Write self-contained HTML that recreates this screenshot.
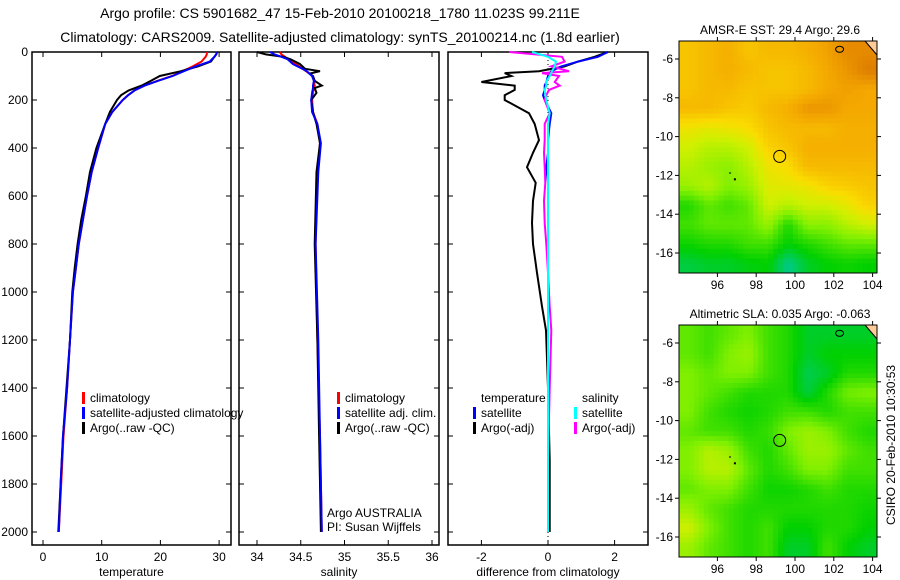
<!DOCTYPE html>
<html><head><meta charset="utf-8"><style>
html,body{margin:0;padding:0;background:#fff}
svg{display:block;font-family:"Liberation Sans",sans-serif}
</style></head><body>
<svg id="c" width="900" height="580" viewBox="0 0 900 580" xmlns="http://www.w3.org/2000/svg">
<text x="340" y="18" font-size="14" text-anchor="middle">Argo profile: CS 5901682_47 15-Feb-2010 20100218_1780 11.023S 99.211E</text>
<text x="340" y="42" font-size="14" text-anchor="middle">Climatology: CARS2009. Satellite-adjusted climatology: synTS_20100214.nc (1.8d earlier)</text>
<g id="g"></g>
</svg>
<script>
// ---- data ----
const depthsT = [0,10,20,40,60,80,100,120,140,160,180,200,250,300,400,500,600,700,800,900,1000,1200,1400,1600,1800,2000];
const tempClim = [27.9,27.9,27.7,27,25.5,23.8,22,19.5,17.3,15.6,14.5,13.6,11.8,10.6,9.4,8.3,7.5,6.8,6.1,5.6,5.1,4.6,4.1,3.5,3.1,2.7];
const tempSat  = [29.6,29.5,29.2,28.4,26,24,22.1,19.6,17.3,15.6,14.5,13.6,11.8,10.6,9.4,8.3,7.5,6.8,6.1,5.6,5.1,4.6,4.1,3.4,3.0,2.7];
const tempArgo = [29.7,29.5,29.2,28.6,26.4,23.5,19.9,18.4,16.8,14.6,13.3,12.6,11.4,10.6,9.1,8.0,7.3,6.5,5.9,5.4,5.0,4.6,4.0,3.4,3.0,2.6];
const depthsS = [0,10,20,30,50,70,80,90,100,120,140,150,170,200,250,300,380,500,800,1200,1600,2000];
const salClim = [34.26,34.28,34.32,34.36,34.45,34.52,34.56,34.6,34.63,34.65,34.66,34.65,34.64,34.63,34.64,34.69,34.72,34.69,34.67,34.69,34.72,34.74];
const salSat  = [34.15,34.2,34.28,34.35,34.41,34.52,34.57,34.6,34.63,34.65,34.64,34.64,34.63,34.62,34.63,34.69,34.73,34.7,34.67,34.7,34.72,34.74];
const salArgo = [34.0,34.1,34.3,34.38,34.49,34.55,34.72,34.6,34.64,34.66,34.74,34.66,34.68,34.62,34.64,34.68,34.72,34.68,34.66,34.69,34.71,34.73];
const depthsD = [0,20,40,60,80,88,100,125,140,158,180,200,255,300,367,420,480,545,620,712,800,920,1060,1160,1400,1700,2000];
const dTsat  = [1.8,1.5,0.9,0.4,0.1,0.05,0.0,-0.05,-0.1,-0.1,-0.15,-0.1,0.1,0.05,0.0,0.0,-0.05,0.0,0.0,0.0,0.0,0.0,0.0,0.0,0.0,0.0,0.0];
const dTargo = [1.8,1.4,0.9,0.5,-0.27,-1.3,-1.1,-2.0,-1.0,-1.0,-1.3,-1.3,-0.57,-0.4,-0.27,-0.45,-0.63,-0.37,-0.45,-0.48,-0.45,-0.33,-0.18,-0.06,0.0,0.05,0.05];
const dSsat  = [-0.48,0.0,0.24,0.2,0.12,0.1,0.05,-0.06,-0.05,-0.1,-0.08,-0.05,0.05,0.0,0.0,0.0,0.0,0.0,0.0,0.0,0.0,0.0,0.0,0.0,0.0,0.0,0.0];
const dSargo = [-1.17,0.42,0.5,0.1,0.63,-0.18,0.33,0.2,0.35,0.03,-0.05,-0.1,0.05,-0.1,-0.1,-0.12,-0.1,-0.08,-0.12,-0.1,-0.05,0.0,0.05,0.1,0.05,0.0,0.0];
const depthTicks = [0,200,400,600,800,1000,1200,1400,1600,1800,2000];
const tTicks = [0,10,20,30];
const sTicks = [34,34.5,35,35.5,36];
const dTicks = [-2,0,2];
const latTicks = [-6,-8,-10,-12,-14,-16];
const lonTicks = [96,98,100,102,104];
const sstGrid = [
[0.72,0.75,0.78,0.72,0.75,0.75,0.78,0.82,0.88,0.88],
[0.72,0.75,0.78,0.75,0.72,0.72,0.75,0.8,0.85,0.92],
[0.72,0.75,0.75,0.72,0.72,0.72,0.75,0.8,0.82,0.8],
[0.75,0.75,0.72,0.7,0.75,0.78,0.85,0.85,0.8,0.8],
[0.62,0.6,0.62,0.65,0.72,0.75,0.75,0.75,0.78,0.78],
[0.55,0.5,0.5,0.55,0.68,0.72,0.78,0.78,0.78,0.78],
[0.5,0.45,0.42,0.5,0.62,0.65,0.75,0.75,0.75,0.75],
[0.45,0.5,0.4,0.45,0.58,0.6,0.62,0.68,0.7,0.72],
[0.25,0.35,0.3,0.35,0.55,0.5,0.55,0.55,0.6,0.68],
[0.3,0.35,0.35,0.35,0.45,0.25,0.42,0.42,0.5,0.55],
[0.22,0.25,0.25,0.3,0.3,0.2,0.25,0.3,0.35,0.35],
[0.12,0.15,0.15,0.18,0.2,0.03,0.15,0.2,0.22,0.2]];
const slaGrid = [
[0.35,0.3,0.35,0.4,0.3,0.25,0.15,0.15,0.15,0.15],
[0.35,0.3,0.4,0.45,0.3,0.25,0.15,0.2,0.2,0.2],
[0.4,0.35,0.4,0.4,0.3,0.25,0.1,0.15,0.25,0.25],
[0.4,0.35,0.3,0.25,0.25,0.25,0.12,0.25,0.38,0.4],
[0.4,0.3,0.25,0.22,0.25,0.3,0.3,0.25,0.3,0.3],
[0.35,0.3,0.3,0.25,0.28,0.4,0.45,0.4,0.3,0.25],
[0.4,0.5,0.45,0.3,0.25,0.35,0.45,0.45,0.35,0.3],
[0.4,0.5,0.5,0.35,0.25,0.3,0.4,0.4,0.3,0.3],
[0.35,0.4,0.4,0.3,0.22,0.22,0.25,0.3,0.25,0.25],
[0.45,0.35,0.3,0.25,0.25,0.25,0.25,0.25,0.25,0.22],
[0.55,0.4,0.3,0.25,0.3,0.2,0.2,0.25,0.25,0.2],
[0.45,0.35,0.3,0.25,0.3,0.15,0.15,0.3,0.2,0.15]];

const NS="http://www.w3.org/2000/svg";
const G=document.getElementById('g');
function el(t,a,p){const e=document.createElementNS(NS,t);for(const k in a)e.setAttribute(k,a[k]);(p||G).appendChild(e);return e;}
const top0=52, bot=545;
const yD = d => top0 + d*0.24;

function panel(name,x0,x1,xs,ticks,xlabel,fmt){
  const g=el('g',{});
  
  
  const r=el('rect',{x:x0,y:top0,width:x1-x0,height:bot-top0,fill:'none',stroke:'#000','stroke-width':1.5},g);
  
  
  ticks.forEach(v=>{const x=xs(v);
    el('line',{x1:x,x2:x,y1:bot,y2:bot-5,stroke:'#000'},g);
    el('line',{x1:x,x2:x,y1:top0,y2:top0+5,stroke:'#000'},g);
    const t=el('text',{x:x,y:561,'font-size':12,'text-anchor':'middle'},g);t.textContent=fmt(v);
    
    
  });
  depthTicks.forEach(d=>{const y=yD(d);
    el('line',{x1:x0,x2:x0+5,y1:y,y2:y,stroke:'#000'},g);
    el('line',{x1:x1,x2:x1-5,y1:y,y2:y,stroke:'#000'},g);});
  const l=el('text',{x:(x0+x1)/2,y:576,'font-size':12,'text-anchor':'middle'},g);l.textContent=xlabel;
  
  
  return g;
}
function line(g,name,depths,vals,xs,col,w){
  const pts=depths.map((d,i)=>xs(vals[i]).toFixed(1)+','+yD(d).toFixed(1)).join(' ');
  const p=el('polyline',{points:pts,fill:'none',stroke:col,'stroke-width':w||2},g);
  
  
}
function legend(g,x,y,items){
  items.forEach((it,i)=>{
    if(it[1]) el('rect',{x:x,y:y+i*15-10,width:3,height:12,fill:it[1]},g);
    const t=el('text',{x:x+8,y:y+i*15,'font-size':12},g);t.textContent=it[0];
    
    
  });
}
depthTicks.forEach(d=>{const t=el('text',{x:28,y:yD(d)+4,'font-size':12,'text-anchor':'end'});t.textContent=d;
  
  });

const xT=v=>43+v*5.87;
const p1=panel('temperature-panel',32,231,xT,tTicks,'temperature',v=>v);
line(p1,'temp-climatology',depthsT,tempClim,xT,'#f00');
line(p1,'temp-argo',depthsT,tempArgo,xT,'#000');
line(p1,'temp-satellite-adj',depthsT,tempSat,xT,'#00f');
legend(p1,82,402,[['climatology','#f00'],['satellite-adjusted climatology','#00f'],['Argo(..raw -QC)','#000']]);
const xS=v=>257+(v-34)*87.5;
const p2=panel('salinity-panel',239,439,xS,sTicks,'salinity',v=>v);
line(p2,'sal-climatology',depthsS,salClim,xS,'#f00');
line(p2,'sal-argo',depthsS,salArgo,xS,'#000');
line(p2,'sal-satellite-adj',depthsS,salSat,xS,'#00f');
legend(p2,337,402,[['climatology','#f00'],['satellite adj. clim.','#00f'],['Argo(..raw -QC)','#000']]);
const a1=el('text',{x:327,y:517,'font-size':12},p2);a1.textContent='Argo AUSTRALIA';
const a2=el('text',{x:327,y:531,'font-size':12},p2);a2.textContent='PI: Susan Wijffels';
const xDf=v=>548+v*33.3;
const p3=panel('difference-panel',448,648,xDf,dTicks,'difference from climatology',v=>v);
el('line',{x1:548,x2:548,y1:top0,y2:bot,stroke:'#000','stroke-dasharray':'1,3'},p3);
line(p3,'diff-temp-argo',depthsD,dTargo,xDf,'#000');
line(p3,'diff-temp-satellite',depthsD,dTsat,xDf,'#00f');
line(p3,'diff-sal-argo',depthsD,dSargo,xDf,'#f0f');
line(p3,'diff-sal-satellite',depthsD,dSsat,xDf,'#0ff');
legend(p3,473,402,[['temperature',null],['satellite','#00f'],['Argo(-adj)','#000']]);
legend(p3,574,402,[['salinity',null],['satellite','#0ff'],['Argo(-adj)','#f0f']]);

const stops=[[0,[0,200,160]],[0.2,[0,208,0]],[0.4,[128,240,0]],[0.55,[208,240,0]],[0.65,[250,220,0]],[0.8,[244,168,0]],[1,[208,96,0]]];
function cmap(v){v=Math.max(0,Math.min(1,v));for(let i=1;i<stops.length;i++){if(v<=stops[i][0]){const a=stops[i-1],b=stops[i],t=(v-a[0])/(b[0]-a[0]);return 'rgb('+a[1].map((c,k)=>Math.round(c+(b[1][k]-c)*t)).join(',')+')';}}}
function map(name,y0,grid,title){
  const x0=679,x1=877,y1=y0+232;
  const lx=lon=>795+(lon-100)*19.4, ly=lat=>y0+18+(-6-lat)*19.4;
  const g=el('g',{});
  
  
  const tt=el('text',{x:780,y:y0-7,'font-size':12,'text-anchor':'middle'},g);tt.textContent=title;
  
  
  const R=grid.length,C=grid[0].length,sub=4;
  const cw=(x1-x0)/(C*sub),ch=(y1-y0)/(R*sub);
  for(let i=0;i<R*sub;i++)for(let j=0;j<C*sub;j++){
    const fy=Math.max(0,Math.min(R-1,(i+0.5)/sub-0.5)),fx=Math.max(0,Math.min(C-1,(j+0.5)/sub-0.5));
    const i0=Math.floor(fy),j0=Math.floor(fx),i1=Math.min(R-1,i0+1),j1=Math.min(C-1,j0+1),ty=fy-i0,tx=fx-j0;
    const v=grid[i0][j0]*(1-ty)*(1-tx)+grid[i0][j1]*(1-ty)*tx+grid[i1][j0]*ty*(1-tx)+grid[i1][j1]*ty*tx;
    const c=el('rect',{x:(x0+j*cw).toFixed(2),y:(y0+i*ch).toFixed(2),width:(cw+0.4).toFixed(2),height:(ch+0.4).toFixed(2),fill:cmap(v)},g);
    
    
  }
  el('polygon',{points:`${x1-12},${y0} ${x1},${y0} ${x1},${y0+14}`,fill:'#fc9'},g);
  el('line',{x1:x1-12,y1:y0,x2:x1,y2:y0+14,stroke:'#000'},g);
  el('ellipse',{cx:lx(102.3),cy:ly(-5.5),rx:4,ry:3,fill:'none',stroke:'#000'},g);
  el('rect',{x:lx(96.85),y:ly(-12.15),width:2,height:2,fill:'#000'},g);
  el('rect',{x:lx(96.6),y:ly(-11.85),width:2,height:1,fill:'#000'},g);
  const circ=el('circle',{cx:lx(99.21),cy:ly(-11.02),r:6,fill:'none',stroke:'#000'},g);
  
  
  el('rect',{x:x0,y:y0,width:x1-x0,height:y1-y0,fill:'none',stroke:'#000'},g);
  latTicks.forEach(l=>{const y=ly(l);el('line',{x1:x0-4,x2:x0,y1:y,y2:y,stroke:'#000'},g);el('line',{x1:x1,x2:x1+4,y1:y,y2:y,stroke:'#000'},g);
    const t=el('text',{x:x0-6,y:y+4,'font-size':12,'text-anchor':'end'},g);t.textContent=l;
    
    });
  lonTicks.forEach(l=>{const x=lx(l);el('line',{x1:x,x2:x,y1:y1,y2:y1+4,stroke:'#000'},g);el('line',{x1:x,x2:x,y1:y0-4,y2:y0,stroke:'#000'},g);
    const t=el('text',{x:x,y:y1+16,'font-size':12,'text-anchor':'middle'},g);t.textContent=l;
    
    });
}
map('sst-map',41,sstGrid,'AMSR-E SST: 29.4 Argo: 29.6');
map('sla-map',325,slaGrid,'Altimetric SLA: 0.035 Argo: -0.063');
const st=el('text',{x:0,y:0,'font-size':12,'text-anchor':'middle',transform:'translate(895,445) rotate(-90)'});
st.textContent='CSIRO 20-Feb-2010 10:30:53';


</script>
</body></html>
